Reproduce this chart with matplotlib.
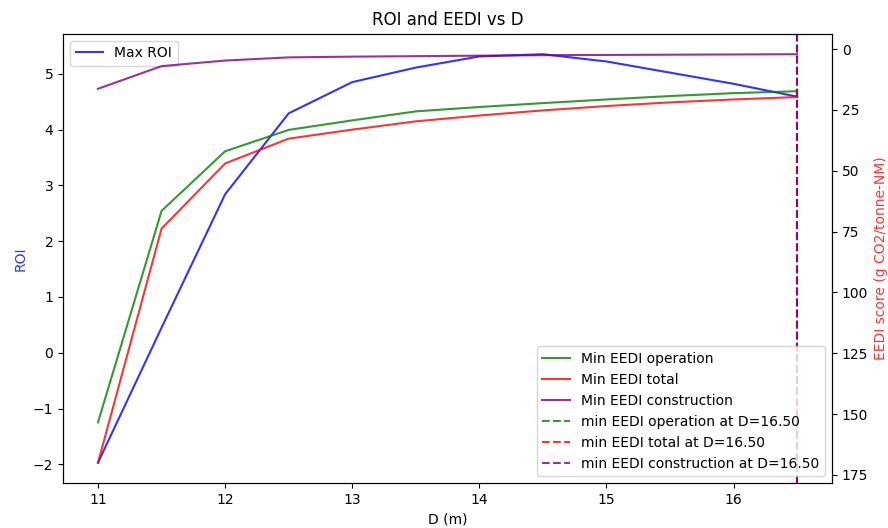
import numpy as np
import matplotlib
matplotlib.use('Agg')
import matplotlib.pyplot as plt

# Diámetros evaluados
D = [11.0, 11.5, 12.0, 12.5, 13.0, 13.5, 14.0, 14.5, 15.0, 15.5, 16.0, 16.5]

# ROI máximo por diámetro
max_roi = [-1.97, 0.45, 2.84, 4.29, 4.85, 5.11, 5.31, 5.35, 5.22, 5.02, 4.82, 4.59]

# EEDI mínimo (g CO2/tonne-NM)
eedi_operation = [153.4, 66.5, 42.0, 33.2, 29.3, 25.6, 23.8, 22.2, 20.7, 19.3, 18.1, 17.3]
eedi_total = [170.0, 73.8, 47.0, 36.8, 33.1, 29.7, 27.3, 25.2, 23.4, 21.9, 20.7, 19.7]
eedi_construction = [16.3, 7.0, 4.7, 3.4, 3.1, 2.9, 2.7, 2.5, 2.4, 2.3, 2.2, 2.1]

# D con EEDI mínimo
d_min_operation = 16.5
d_min_total = 16.5
d_min_construction = 16.5

fig, ax1 = plt.subplots(figsize=(8.88, 5.28), dpi=100)
fig.subplots_adjust(left=0.071, right=0.937, bottom=0.085, top=0.936)

ax1.plot(D, max_roi, color='blue', alpha=0.8, label='Max ROI')
ax1.set_xlabel('D (m)')
ax1.set_ylabel('ROI', color='blue', alpha=0.8)
ax1.legend(loc='upper left')

ax2 = ax1.twinx()
ax2.plot(D, eedi_operation, color='green', alpha=0.8, label='Min EEDI operation')
ax2.plot(D, eedi_total, color='red', alpha=0.8, label='Min EEDI total')
ax2.plot(D, eedi_construction, color='purple', alpha=0.8, label='Min EEDI construction')
ax2.axvline(d_min_operation, color='green', linestyle='--', alpha=0.8,
            label=f'min EEDI operation at D={d_min_operation:.2f}')
ax2.axvline(d_min_total, color='red', linestyle='--', alpha=0.8,
            label=f'min EEDI total at D={d_min_total:.2f}')
ax2.axvline(d_min_construction, color='purple', linestyle='--', alpha=0.8,
            label=f'min EEDI construction at D={d_min_construction:.2f}')
ax2.set_ylabel('EEDI score (g CO2/tonne-NM)', color='red', alpha=0.8)
ax2.invert_yaxis()
ax2.legend(loc='lower right')

plt.title('ROI and EEDI vs D')
plt.savefig('out.png')
plt.close()
